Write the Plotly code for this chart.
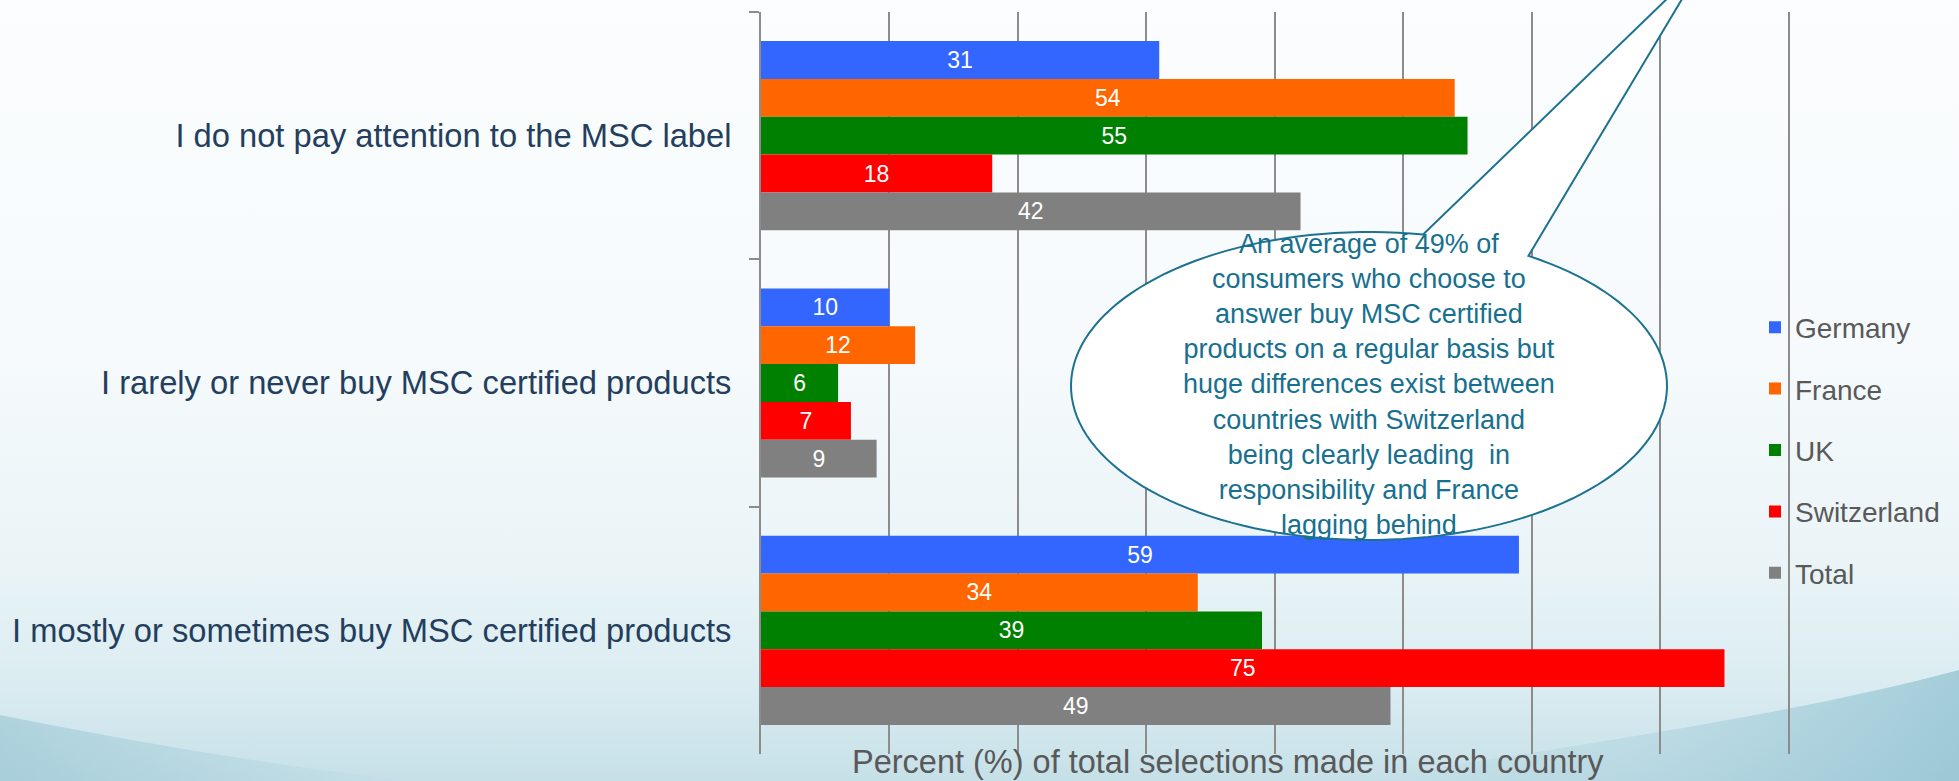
import base64
import numpy as np
import plotly.graph_objects as go

# ---------------- data ----------------
categories = [
    "I do not pay attention to the MSC label",
    "I rarely or never buy MSC certified products",
    "I mostly or sometimes buy MSC certified products",
]
series_names = ["Germany", "France", "UK", "Switzerland", "Total"]
germany = [31, 10, 59]
france = [54, 12, 34]
uk = [55, 6, 39]
switzerland = [18, 7, 75]
total = [42, 9, 49]
series_values = [germany, france, uk, switzerland, total]
series_colors = ["#3366FF", "#FF6600", "#008000", "#FF0000", "#808080"]

x_title = "Percent (%) of total selections made in each country"
callout_text = ("An average of 49% of<br>consumers who choose to<br>answer buy MSC certified<br>"
                "products on a regular basis but<br>huge differences exist between<br>"
                "countries with Switzerland<br>being clearly leading  in<br>"
                "responsibility and France<br>lagging behind")

# ---------------- layout geometry (pixels) ----------------
W, H = 1959, 781
ML, MR, MT, MB = 761, 169, 12, 27
PW, PH = W - ML - MR, H - MT - MB


def px_to_paper(px, py):
    return (px - ML) / PW, (H - MB - py) / PH


FONT = "Liberation Sans, Arial, sans-serif"

fig = go.Figure()
for name, vals, col in zip(series_names, series_values, series_colors):
    fig.add_trace(go.Bar(
        y=categories, x=vals, name=name, orientation="h",
        marker=dict(color=col, line=dict(width=0)),
        text=vals, texttemplate="%{x}", textposition="inside",
        insidetextanchor="middle", textangle=0,
        textfont=dict(color="white", size=23, family=FONT),
        legendgroup=name,
    ))

# ---------------- background gradient image ----------------
svg = f'''<svg xmlns="http://www.w3.org/2000/svg" width="{W}" height="{H}" viewBox="0 0 {W} {H}" preserveAspectRatio="none">
<defs>
<linearGradient id="g" x1="0" y1="0" x2="0" y2="1">
<stop offset="0" stop-color="#FBFDFE"/>
<stop offset="0.45" stop-color="#F6FAFC"/>
<stop offset="0.72" stop-color="#EAF4F7"/>
<stop offset="0.88" stop-color="#DAECF1"/>
<stop offset="1" stop-color="#C6E0E8"/>
</linearGradient>
<linearGradient id="s" x1="0" y1="0" x2="1" y2="0">
<stop offset="0" stop-color="#8FC1D0" stop-opacity="0.0"/>
<stop offset="0.5" stop-color="#8FC1D0" stop-opacity="0.3"/>
<stop offset="1" stop-color="#7FB8C9" stop-opacity="0.6"/>
</linearGradient>
<linearGradient id="l" x1="0" y1="0" x2="1" y2="0">
<stop offset="0" stop-color="#8ABDCC" stop-opacity="0.5"/>
<stop offset="1" stop-color="#8ABDCC" stop-opacity="0.0"/>
</linearGradient>
</defs>
<rect x="0" y="0" width="{W}" height="{H}" fill="url(#g)"/>
<path d="M1350,{H} C1580,745 1790,715 {W},670 L{W},{H} Z" fill="url(#s)"/>
<path d="M0,715 C150,745 300,770 420,{H} L0,{H} Z" fill="url(#l)"/>
</svg>'''
src = "data:image/svg+xml;base64," + base64.b64encode(svg.encode()).decode()
fig.add_layout_image(dict(
    source=src, xref="paper", yref="paper",
    x=-ML / PW, y=1 + MT / PH, sizex=W / PW, sizey=H / PH,
    xanchor="left", yanchor="top", sizing="stretch", layer="below",
))

# ---------------- callout (ellipse with tail) ----------------
cx, cy, rx, ry = 1369, 386, 298, 154
base_l = (1424, 232)
base_r = (1532, 253)
apex = (1703, -36)
a_r = np.arctan2((base_r[1] - cy) / ry, (base_r[0] - cx) / rx)
a_l = np.arctan2((base_l[1] - cy) / ry, (base_l[0] - cx) / rx) + 2 * np.pi
angs = np.linspace(a_r, a_l, 140)
pts = [(cx + rx * np.cos(a), cy + ry * np.sin(a)) for a in angs]
pts += [apex]
path = ""
for i, (px, py) in enumerate(pts):
    xp, yp = px_to_paper(px, py)
    path += ("M" if i == 0 else "L") + f"{xp:.5f},{yp:.5f}"
path += "Z"
fig.add_shape(type="path", path=path, xref="paper", yref="paper",
              fillcolor="white", line=dict(color="#1C7290", width=2),
              layer="above")

tx, ty = px_to_paper(1369, 385)
fig.add_annotation(text=callout_text, x=tx, y=ty, xref="paper", yref="paper",
                   xanchor="center", yanchor="middle", showarrow=False,
                   align="center", font=dict(size=27, color="#17708F", family=FONT))

# x-axis title as annotation (offset from plot centre, as in reference)
ax_x, ax_y = px_to_paper(1228, 762)
fig.add_annotation(text=x_title, x=ax_x, y=ax_y, xref="paper", yref="paper",
                   xanchor="center", yanchor="middle", showarrow=False,
                   font=dict(size=32.5, color="#595959", family=FONT))

fig.update_layout(
    width=W, height=H,
    margin=dict(l=ML, r=MR, t=MT, b=MB, pad=0),
    barmode="group", bargap=0.235, bargroupgap=0,
    paper_bgcolor="#F7FBFD", plot_bgcolor="rgba(0,0,0,0)",
    font=dict(family=FONT),
    showlegend=True,
    legend=dict(x=(1755 - ML) / PW, xanchor="left", y=px_to_paper(0, 450)[1], yanchor="middle",
                font=dict(size=28, color="#595959", family=FONT),
                bgcolor="rgba(0,0,0,0)", tracegroupgap=22, traceorder="grouped"),
    xaxis=dict(range=[0, 80.1], dtick=10, tick0=0, showgrid=True, gridcolor="#8C8C8C",
               gridwidth=1.5, showticklabels=False, zeroline=False, showline=False,
               ticks="", automargin=False),
    yaxis=dict(autorange="reversed", showline=True, linecolor="#8C8C8C", linewidth=2,
               ticks="outside", ticklen=10, tickwidth=2, tickcolor="#8C8C8C",
               tickson="boundaries", showgrid=False, ticklabelstandoff=21,
               automargin=False,
               tickfont=dict(size=32.7, color="#243E5E", family=FONT)),
)

fig.write_html("out.html", config={"displayModeBar": False},
               post_script="document.body.style.margin='0';document.body.style.overflow='hidden';")
